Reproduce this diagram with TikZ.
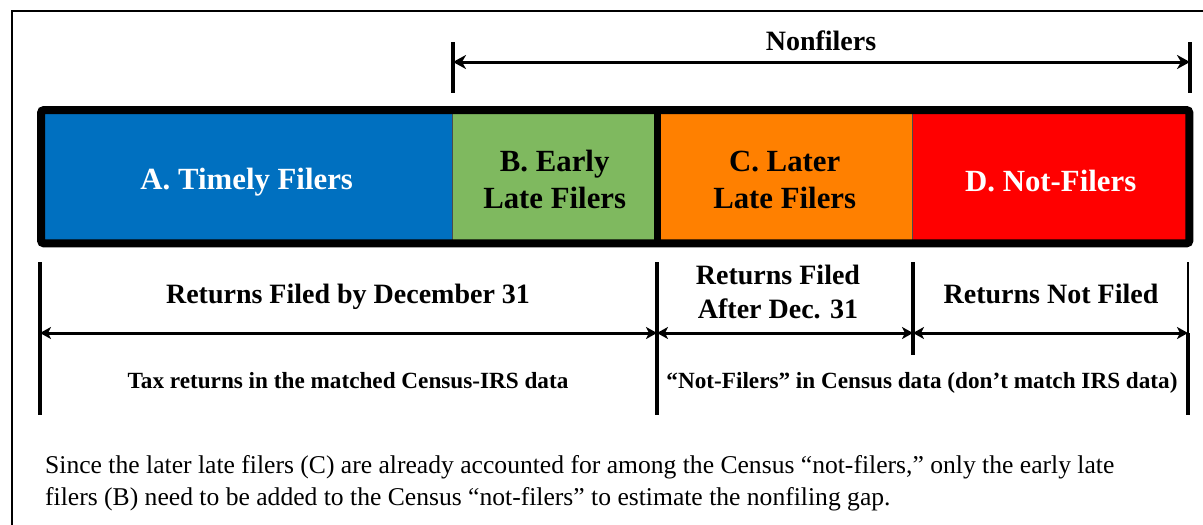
\documentclass[tikz,border=0pt]{standalone}
\usepackage{fontspec}
\setmainfont{Liberation Serif}
\usetikzlibrary{arrows.meta}
\definecolor{cblue}{RGB}{0,112,192}
\definecolor{cgreen}{RGB}{127,185,95}
\definecolor{corange}{RGB}{255,128,0}
\definecolor{cred}{RGB}{255,0,0}
\tikzset{
  seg/.style={anchor=north west, inner sep=0pt, minimum height=133pt, draw=none},
  segtext/.style={inner sep=0pt, align=center, font=\fontsize{30.8}{37}\selectfont\bfseries},
  tick/.style={line width=3.5pt},
  thintick/.style={line width=1.8pt},
  toparrow/.style={line width=3pt, {Stealth[length=13pt,width=14pt,inset=4pt]}-{Stealth[length=13pt,width=14pt,inset=4pt]}},
  botarrow/.style={line width=3pt, {Stealth[length=11pt,width=12pt,inset=3pt]}-{Stealth[length=11pt,width=12pt,inset=3pt]}},
  biglabel/.style={font=\fontsize{28}{34}\selectfont\bfseries, align=center, inner sep=0pt},
  smalllabel/.style={font=\fontsize{23.2}{28}\selectfont\bfseries, align=center, inner sep=0pt},
  note/.style={font=\fontsize{25.6}{32}\selectfont, align=left, anchor=west, inner sep=0pt}
}
\begin{document}
\begin{tikzpicture}[x=1pt,y=-1pt]
\useasboundingbox (0,0) rectangle (1203,525);
% outer frame (clipped at right and bottom)
\coordinate (fbl) at (12,525);
\coordinate (ftl) at (12,11);
\coordinate (ftr) at (1203,11);
\draw[line width=2pt] (fbl) -- (ftl) -- (ftr);

% bar segments
\node[seg, fill=cblue, minimum width=411pt] (A) at (41,110) {};
\node[seg, fill=cgreen, minimum width=205pt] (B) at (452,110) {};
\node[seg, fill=corange, minimum width=255pt] (C) at (657,110) {};
\node[seg, fill=cred, minimum width=277pt] (D) at (912,110) {};
\draw[line width=1pt, black!70] (A.north east) -- (A.south east);
\draw[line width=1pt, black!70] (C.north east) -- (C.south east);
\draw[line width=7pt] (B.north east) -- (B.south east);
\draw[line width=8pt, rounded corners=3pt] (A.north west) rectangle (D.south east);
\node[segtext, text=white] (tA) at ([yshift=-5pt]A.center) {A. Timely Filers};
\node[segtext] (tB) at ([yshift=-3pt]B.center) {B. Early\\Late Filers};
\node[segtext] (tC) at ([yshift=-3pt]C.center) {C. Later\\Late Filers};
\node[segtext, text=white] (tD) at ([yshift=-4pt]D.center) {D. Not-Filers};

% top: Nonfilers
\coordinate (ntl) at (453,42); \coordinate (nbl) at (453,93);
\coordinate (ntr) at (1190,42); \coordinate (nbr) at (1190,93);
\coordinate (nl) at (453,62); \coordinate (nr) at (1190,62);
\draw[tick] (ntl) -- (nbl);
\draw[tick] (ntr) -- (nbr);
\draw[toparrow] (nl) -- (nr);
\node[biglabel] (nonf) at (821,41) {Nonfilers};

% bottom ticks
\coordinate (t1a) at (40,262); \coordinate (t1b) at (40,415);
\coordinate (t2a) at (657,262); \coordinate (t2b) at (657,415);
\coordinate (t3a) at (913,262); \coordinate (t3b) at (913,355);
\coordinate (t4a) at (1188,262); \coordinate (t4m) at (1188,333); \coordinate (t4b) at (1188,415);
\draw[tick] (t1a) -- (t1b);
\draw[tick] (t2a) -- (t2b);
\draw[tick] (t3a) -- (t3b);
\draw[thintick] (t4a) -- (t4m);
\draw[tick] (t4m) -- (t4b);

% bottom arrows
\coordinate (a1) at (40,333); \coordinate (a2) at (657,333);
\coordinate (a3) at (913,333); \coordinate (a4) at (1188,333);
\draw[botarrow] (a1) -- (a2);
\draw[botarrow] (a2) -- (a3);
\draw[botarrow] (a3) -- (a4);

% labels
\node[biglabel] (l1) at (348,297) {Returns Filed by December 31};
\node[biglabel] (l2) at (778,292) {Returns Filed\\After Dec. 31};
\node[biglabel] (l3) at (1051,294) {Returns Not Filed};
\node[smalllabel] (s1) at (348,381) {Tax returns in the matched Census-IRS data};
\node[smalllabel] (s2) at (922,383) {“Not-Filers” in Census data (don’t match IRS data)};

% note
\node[note] (n) at (45,483) {Since the later late filers (C) are already accounted for among the Census “not-filers,” only the early late\\filers (B) need to be added to the Census “not-filers” to estimate the nonfiling gap.};
\end{tikzpicture}
\end{document}
